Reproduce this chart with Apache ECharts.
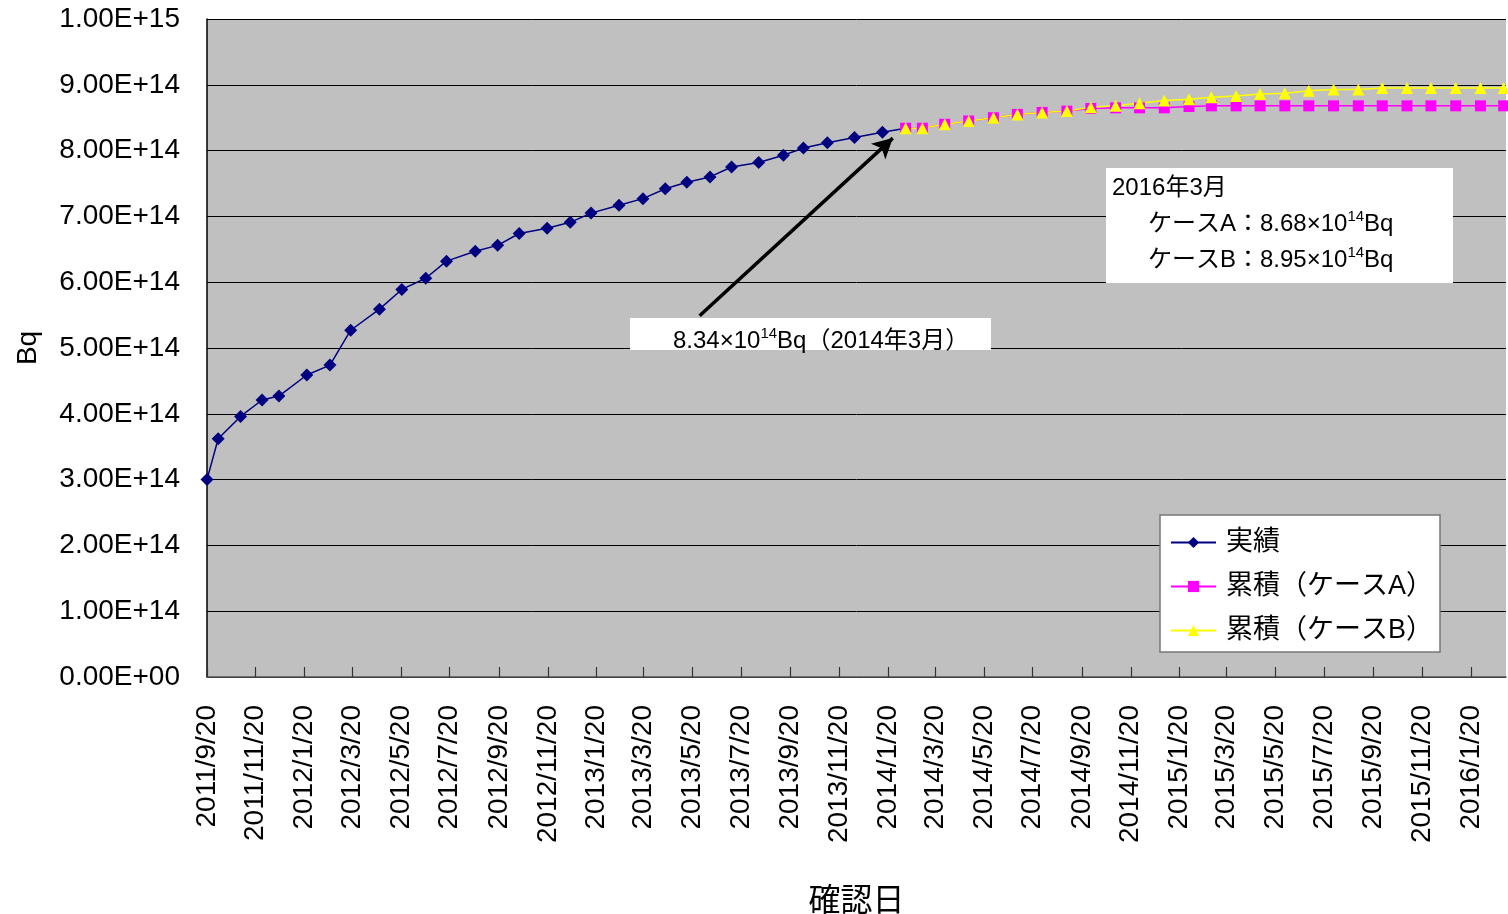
<!DOCTYPE html>
<html><head><meta charset="utf-8">
<script src="https://cdn.jsdelivr.net/npm/echarts@6/dist/echarts.min.js"></script>
<style>html,body{margin:0;padding:0;background:#fff}#c{width:1508px;height:914px}</style>
</head><body><div id="c"></div>
<script>
// ---- data (values in units of 1e14 Bq) ----
const actualDates = ['2011/9/20','2011/10/4','2011/11/1','2011/11/28','2011/12/19','2012/1/23','2012/2/21','2012/3/18','2012/4/23','2012/5/21','2012/6/20','2012/7/16','2012/8/21','2012/9/18','2012/10/15','2012/11/19','2012/12/18','2013/1/13','2013/2/17','2013/3/19','2013/4/16','2013/5/13','2013/6/11','2013/7/8','2013/8/11','2013/9/11','2013/10/6','2013/11/5','2013/12/9','2014/1/13','2014/2/11'];
const actualValues = [3.00,3.62,3.96,4.21,4.27,4.59,4.74,5.27,5.59,5.89,6.06,6.32,6.47,6.56,6.74,6.82,6.91,7.05,7.17,7.27,7.42,7.52,7.60,7.75,7.82,7.93,8.04,8.12,8.20,8.28,8.34];
const forecastDates = ['2014/2/11','2014/3/4','2014/4/1','2014/5/1','2014/6/1','2014/7/1','2014/8/1','2014/9/1','2014/10/1','2014/11/1','2014/12/1','2015/1/1','2015/2/1','2015/3/1','2015/4/1','2015/5/1','2015/6/1','2015/7/1','2015/8/1','2015/9/1','2015/10/1','2015/11/1','2015/12/1','2016/1/1','2016/2/1','2016/3/1'];
const caseAValues = [8.34,8.34,8.40,8.45,8.50,8.55,8.58,8.60,8.64,8.65,8.65,8.65,8.67,8.68,8.68,8.68,8.68,8.68,8.68,8.68,8.68,8.68,8.68,8.68,8.68,8.68];
const caseBValues = [8.34,8.34,8.40,8.45,8.50,8.55,8.58,8.60,8.66,8.68,8.72,8.76,8.78,8.81,8.83,8.86,8.87,8.91,8.93,8.93,8.95,8.95,8.95,8.95,8.95,8.95];
const seriesNames = ['実績','累積（ケースA）','累積（ケースB）'];
const xTickLabels = ['2011/9/20','2011/11/20','2012/1/20','2012/3/20','2012/5/20','2012/7/20','2012/9/20','2012/11/20','2013/1/20','2013/3/20','2013/5/20','2013/7/20','2013/9/20','2013/11/20','2014/1/20','2014/3/20','2014/5/20','2014/7/20','2014/9/20','2014/11/20','2015/1/20','2015/3/20','2015/5/20','2015/7/20','2015/9/20','2015/11/20','2016/1/20'];
const yTickLabels = ['0.00E+00','1.00E+14','2.00E+14','3.00E+14','4.00E+14','5.00E+14','6.00E+14','7.00E+14','8.00E+14','9.00E+14','1.00E+15'];
const xRange = ['2011/9/20','2016/3/4'];
const arrowFrom = ['2013/5/29', 5.49];
const arrowTo = ['2014/1/26', 8.19];
const SCALE = 1e14;

const FONT = "'Liberation Sans','Noto Sans CJK JP',sans-serif";
const DAY = 86400000;
// days since epoch (UTC, so no DST drift)
function toDay(s){const p=s.split('/').map(Number);return Math.round(Date.UTC(p[0],p[1]-1,p[2])/DAY);}
const xTickDays = xTickLabels.map(toDay);

const actualData = actualDates.map((d,i)=>{
  const item = {value:[toDay(d), actualValues[i]*SCALE]};
  if (i === actualDates.length-1) item.symbol = 'none';
  return item;
});
const caseAData = forecastDates.map((d,i)=>[toDay(d), caseAValues[i]*SCALE]);
const caseBData = forecastDates.map((d,i)=>[toDay(d), caseBValues[i]*SCALE]);

const richStyle = {
  n:{fontSize:24,lineHeight:30,fontFamily:FONT,fill:'#000'},
  s:{fontSize:15,lineHeight:16,verticalAlign:'top',fontFamily:FONT,fill:'#000'}
};

const chart = echarts.init(document.getElementById('c'));
chart.setOption({
  animation:false,
  backgroundColor:'#fff',
  textStyle:{fontFamily:FONT},
  grid:{left:207,top:19,right:2,bottom:237,show:true,backgroundColor:'#C0C0C0',borderWidth:0,
    containLabel:false,outerBoundsMode:'none'},
  xAxis:{
    type:'value', min:toDay(xRange[0]), max:toDay(xRange[1]), scale:true,
    name:'確認日', nameLocation:'middle', nameGap:209,
    nameTextStyle:{fontSize:32,color:'#000',fontFamily:FONT},
    axisLine:{show:true,lineStyle:{color:'#555',width:1.5}},
    axisTick:{show:true,inside:true,length:10,customValues:xTickDays,lineStyle:{color:'#333',width:1.2}},
    axisLabel:{show:true,rotate:90,margin:28,fontSize:28,color:'#000',fontFamily:FONT,
      customValues:xTickDays,
      formatter:function(v){let best=0,bd=Infinity;xTickDays.forEach((t,i)=>{const d=Math.abs(t-v);if(d<bd){bd=d;best=i;}});return xTickLabels[best];}},
    splitLine:{show:false}
  },
  yAxis:{
    type:'value', min:0, max:10*SCALE, interval:SCALE,
    name:'Bq', nameLocation:'middle', nameGap:165, nameRotate:90,
    nameTextStyle:{fontSize:28,color:'#000',fontFamily:FONT},
    axisLine:{show:true,lineStyle:{color:'#000',width:1.5}},
    axisTick:{show:false},
    axisLabel:{fontSize:28,color:'#000',margin:27,fontFamily:FONT,padding:[7,0,0,0],
      formatter:function(v){return yTickLabels[Math.round(v/SCALE)];}},
    splitLine:{show:true,lineStyle:{color:'#000',width:1}}
  },
  legend:{
    orient:'vertical', left:1160, top:515,
    data:seriesNames,
    padding:[14,7,8,10], itemGap:17, itemWidth:45, itemHeight:14,
    backgroundColor:'#fff', borderColor:'#777', borderWidth:1.5,
    textStyle:{fontSize:27,color:'#000',fontFamily:FONT,padding:[0,0,0,5]}
  },
  series:[
    {name:seriesNames[0],type:'line',data:actualData,symbol:'diamond',symbolSize:13,
      itemStyle:{color:'#000080'},lineStyle:{color:'#000080',width:1.5},
      markLine:{silent:true,symbol:['none','arrow'],symbolSize:[16,20],
        lineStyle:{color:'#000',width:3.5,type:'solid'},label:{show:false},emphasis:{disabled:true},
        data:[[{coord:[toDay(arrowFrom[0]),arrowFrom[1]*SCALE]},{coord:[toDay(arrowTo[0]),arrowTo[1]*SCALE]}]]}},
    {name:seriesNames[1],type:'line',data:caseAData,symbol:'rect',symbolSize:11,
      itemStyle:{color:'#FF00FF'},lineStyle:{color:'#FF00FF',width:1.5}},
    {name:seriesNames[2],type:'line',data:caseBData,symbol:'triangle',symbolSize:12,
      itemStyle:{color:'#FFFF00'},lineStyle:{color:'#FFFF00',width:1.5}}
  ],
  graphic:[
    {type:'rect',left:1106,top:168,z:100,shape:{width:347,height:115},style:{fill:'#fff'}},
    {type:'text',left:1112,top:176,z:101,style:{text:'2016年3月',fontSize:24,fontFamily:FONT,fill:'#000'}},
    {type:'text',left:1148,top:209,z:101,style:{text:'{n|ケースA：8.68×10}{s|14}{n|Bq}',fill:'#000',rich:richStyle}},
    {type:'text',left:1148,top:245,z:101,style:{text:'{n|ケースB：8.95×10}{s|14}{n|Bq}',fill:'#000',rich:richStyle}},
    {type:'rect',left:630,top:318,z:100,shape:{width:361,height:32},style:{fill:'#fff'}},
    {type:'text',left:673,top:326,z:101,style:{text:'{n|8.34×10}{s|14}{n|Bq（2014年3月）}',fill:'#000',rich:richStyle}}
  ]
});
</script></body></html>
